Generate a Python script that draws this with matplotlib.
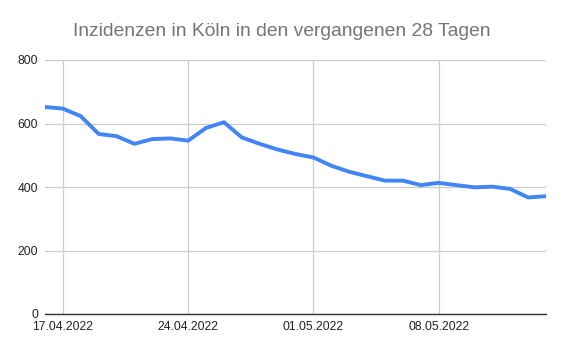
import matplotlib
matplotlib.use("Agg")
import matplotlib.pyplot as plt
import matplotlib.dates as mdates
import datetime as dt

start = dt.date(2022, 4, 16)
values = [652, 647, 623, 567, 560, 536, 551, 553, 546, 586, 604, 556, 536, 518,
          504, 493, 467, 448, 434, 420, 420, 406, 413, 406, 399, 401, 394, 367, 371]
dates = [start + dt.timedelta(days=i) for i in range(len(values))]
tick_dates = [dt.date(2022, 4, 17), dt.date(2022, 4, 24), dt.date(2022, 5, 1), dt.date(2022, 5, 8)]
tick_labels = ["17.04.2022", "24.04.2022", "01.05.2022", "08.05.2022"]
y_ticks = [0, 200, 400, 600, 800]
title = "Inzidenzen in Köln in den vergangenen 28 Tagen"

plt.rcParams['font.family'] = ['Liberation Sans', 'DejaVu Sans']

fig = plt.figure(figsize=(5.64, 3.52), dpi=100)
ax = fig.add_axes([45/564, 38/352, 501/564, 254/352])

ax.plot(dates, values, color="#4285F4", linewidth=2.8, solid_joinstyle="round", zorder=3)

ax.set_xlim(dates[0], dates[-1])
ax.set_ylim(0, 800)
ax.set_yticks(y_ticks)
ax.set_yticklabels([str(v) for v in y_ticks])
ax.set_xticks(tick_dates)
ax.set_xticklabels(tick_labels)

ax.grid(True, color="#cccccc", linewidth=0.9, zorder=0)
for s in ["top", "right", "left"]:
    ax.spines[s].set_visible(False)
ax.spines["bottom"].set_color("#333333")
ax.spines["bottom"].set_linewidth(1.0)
ax.spines["bottom"].set_zorder(4)
ax.tick_params(axis="both", length=0, labelsize=8.7, colors="#222222")
ax.tick_params(axis="y", pad=5)
ax.tick_params(axis="x", pad=5)

fig.text(0.5, 1 - 31/352, title, ha="center", va="center", fontsize=13.9, color="#757575")

fig.savefig("out.png", dpi=100)
